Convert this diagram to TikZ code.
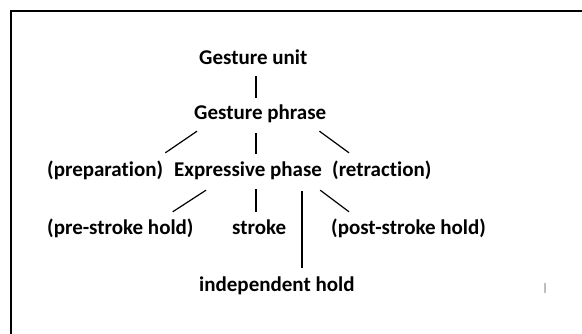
\documentclass[tikz,border=0pt]{standalone}
\usepackage{fontspec}
\setmainfont{Carlito}[Ligatures=NoCommon]
\usepackage{tikz}
\usetikzlibrary{calc}

\begin{document}
\begin{tikzpicture}[x=1pt, y=-1pt,
      unit/.style={anchor=base west, inner sep=0pt, text height=15pt, text depth=5pt,
        font=\fontsize{21}{24}\selectfont\bfseries},
      link/.style={draw, line width=1.2pt}]
      \useasboundingbox (0,0) rectangle (582,334);

      % frame (only top and left edge show)
      \draw[line width=2pt] (10.5,334) -- (10.5,11.5) -- (582,11.5);

      \coordinate (spine) at (256,0);
      \coordinate (holdline) at (302,0);

      \node[unit] (gunit) at (199,65) {Gesture unit};
      \node[unit] (phrase) at (194,120) {Gesture phrase};

      \node[unit] (prep) at (47,177) {(preparation)};
      \node[unit] (expr) at (174,177) {Expressive phase};
      \node[unit] (retr) at (332,177) {(retraction)};

      \node[unit] (prehold) at (47,235) {(pre-stroke hold)};
      \node[unit] (stroke) at (232,235) {stroke};
      \node[unit] (posthold) at (331,235) {(post-stroke hold)};

      \node[unit] (indep) at (199,292) {independent hold};

      % tree lines
      \draw[link, shorten <=6pt, shorten >=7pt] (gunit.south -| spine) -- (phrase.north -| spine);
      \draw[link] ([shift={(3,6)}]phrase.south west) -- ([shift={(2,-9)}]prep.north east);
      \draw[link, shorten <=8pt, shorten >=8pt] (phrase.south -| spine) -- (expr.north -| spine);
      \draw[link] ([shift={(-7,6)}]phrase.south east) -- ([shift={(17,-9)}]retr.north west);

      \draw[link] ([shift={(32,8)}]expr.south west) -- ([shift={(-21,-8)}]prehold.north east);
      \draw[link, shorten <=7pt, shorten >=8pt] (expr.south -| spine) -- (stroke.north -| spine);
      \draw[link, shorten <=9pt, shorten >=9pt] (expr.south -| holdline) -- (indep.north -| holdline);
      \draw[link] ([shift={(-2,8)}]expr.south east) -- ([shift={(18,-8)}]posthold.north west);

      % small grey mark
      \draw[gray!50, line width=1.5pt] (545,283) -- (545,293);
\end{tikzpicture}
\end{document}
